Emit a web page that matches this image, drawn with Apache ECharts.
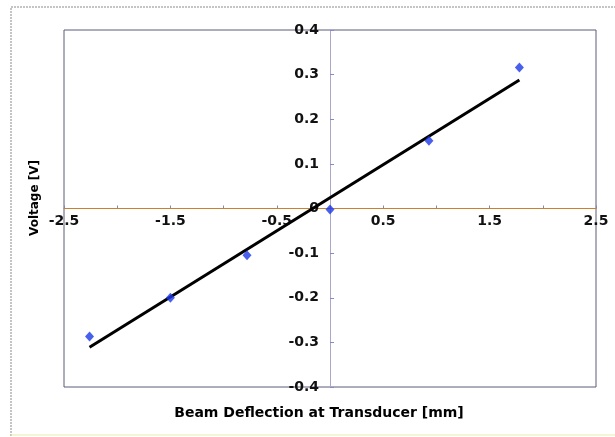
<!DOCTYPE html>
<html>
<head>
<meta charset="utf-8">
<script src="https://cdn.jsdelivr.net/npm/echarts@6/dist/echarts.min.js"></script>
<style>
html,body{margin:0;padding:0;background:#fff;}
#chart{width:615px;height:437px;}
</style>
</head>
<body>
<div id="chart"></div>
<script>
// Data
var deflection = [-2.26, -1.50, -0.78, 0.00, 0.93, 1.78];   // mm
var voltage    = [-0.287, -0.200, -0.105, -0.002, 0.152, 0.316]; // V
var xTitle = 'Beam Deflection at Transducer [mm]';
var yTitle = 'Voltage [V]';

// Linear trendline (least squares) derived from the data
function fit(xs, ys) {
  var n = xs.length, mx = 0, my = 0;
  for (var i = 0; i < n; i++) { mx += xs[i]; my += ys[i]; }
  mx /= n; my /= n;
  var sxx = 0, sxy = 0;
  for (var j = 0; j < n; j++) { sxx += (xs[j]-mx)*(xs[j]-mx); sxy += (xs[j]-mx)*(ys[j]-my); }
  var b = sxy / sxx; return { b: b, a: my - b * mx };
}
var f = fit(deflection, voltage);
var xMin = Math.min.apply(null, deflection), xMax = Math.max.apply(null, deflection);
var trend = [[xMin, f.a + f.b * xMin], [xMax, f.a + f.b * xMax]];
var pts = deflection.map(function (x, i) { return [x, voltage[i]]; });

var W = 615, H = 437;
var G = { left: 64, right: 19, top: 30, bottom: 50 };
var plotW = W - G.left - G.right, plotH = H - G.top - G.bottom;
// axes cross at zero, which is the middle of both symmetric ranges
var xOffset = -plotH / 2, yOffset = -plotW / 2;

var FONT = '"DejaVu Sans", Verdana, sans-serif';
function fmt(v) { return (Math.round(v * 10) / 10).toString(); }
var chart = echarts.init(document.getElementById('chart'), null, { renderer: 'canvas' });
chart.setOption({
  backgroundColor: '#ffffff',
  animation: false,
  grid: { left: G.left, right: G.right, top: G.top, bottom: G.bottom, show: true, borderColor: '#5a5a78', borderWidth: 1, backgroundColor: 'transparent' },
  xAxis: {
    type: 'value', min: -2.5, max: 2.5, interval: 0.5, position: 'bottom', offset: xOffset,
    axisLine: { onZero: false, lineStyle: { color: '#c8822e', width: 1 } },
    axisTick: { show: true, inside: true, length: 3, lineStyle: { color: '#8888aa' } },
    axisLabel: { color: '#111', fontWeight: 'bold', fontSize: 14, fontFamily: FONT, margin: 6,
      showMinLabel: true, showMaxLabel: true, hideOverlap: false,
      formatter: function (v) { return (Math.round(Math.abs(v) * 2) % 2 === 1) ? fmt(v) : ''; } },
    splitLine: { show: false }
  },
  yAxis: {
    type: 'value', min: -0.4, max: 0.4, interval: 0.1, position: 'left', offset: yOffset,
    axisLine: { onZero: false, lineStyle: { color: '#a8a8c8', width: 1 } },
    axisTick: { show: true, inside: true, length: 4, lineStyle: { color: '#8888cc' } },
    axisLabel: { color: '#111', fontWeight: 'bold', fontSize: 14, fontFamily: FONT, margin: 11,
      showMinLabel: true, showMaxLabel: true, hideOverlap: false, formatter: fmt },
    splitLine: { show: false }
  },
  series: [
    { type: 'line', data: trend, showSymbol: false, symbol: 'none', z: 2,
      lineStyle: { color: '#000', width: 3 } },
    { type: 'scatter', data: pts, symbol: 'diamond', symbolSize: [9, 10], z: 3,
      itemStyle: { color: '#1c38e8' } }
  ],
  graphic: [
    { type: 'rect', shape: { x: 11, y: 7, width: 640, height: 440 }, z: -1,
      style: { fill: 'none', stroke: '#8a8a8a', lineWidth: 1, lineDash: [2, 1] } },
    { type: 'line', shape: { x1: 11, y1: 435, x2: 615, y2: 435 }, style: { stroke: '#ece9a8', lineWidth: 1 } },
    { type: 'text', x: 319, y: 413, style: { text: xTitle, font: 'bold 14px ' + FONT, fill: '#000', textAlign: 'center', textVerticalAlign: 'middle' } },
    { type: 'text', x: 35, y: 198, rotation: Math.PI / 2, style: { text: yTitle, font: 'bold 12px ' + FONT, fill: '#000', textAlign: 'center', textVerticalAlign: 'middle' } }
  ]
});
</script>
</body>
</html>
